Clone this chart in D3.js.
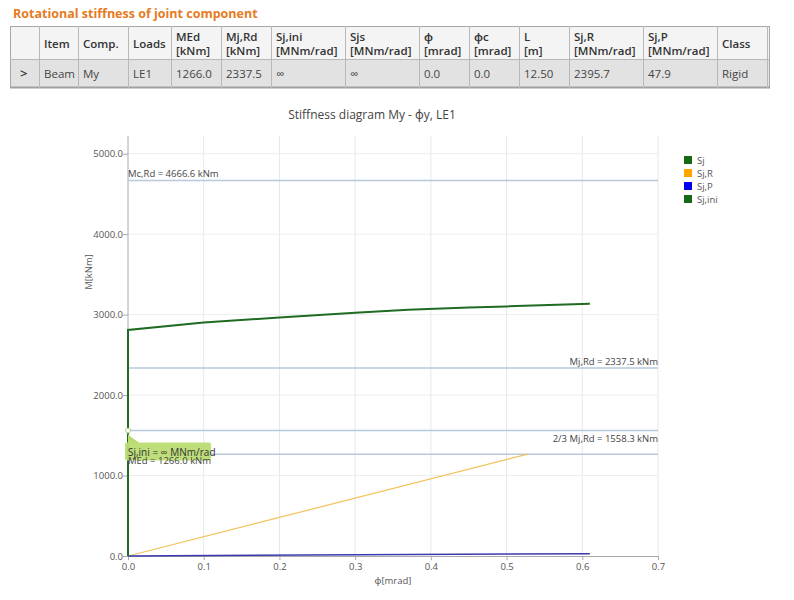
<!DOCTYPE html>
<html><head><meta charset="utf-8">
<script src="https://cdn.jsdelivr.net/npm/d3@7"></script>
<style>body{margin:0;background:#fff}svg{display:block}</style>
</head><body>
<svg id="c" width="794" height="600"></svg>
<script>
// ---------- data ----------
const tableTitle = "Rotational stiffness of joint component";
const headerLine1 = ["", "Item", "Comp.", "Loads", "MEd", "Mj,Rd", "Sj,ini", "Sjs", "ϕ", "ϕc", "L", "Sj,R", "Sj,P", "Class"];
const headerLine2 = ["", "", "", "", "[kNm]", "[kNm]", "[MNm/rad]", "[MNm/rad]", "[mrad]", "[mrad]", "[m]", "[MNm/rad]", "[MNm/rad]", ""];
const rowValues = [">", "Beam", "My", "LE1", "1266.0", "2337.5", "∞", "∞", "0.0", "0.0", "12.50", "2395.7", "47.9", "Rigid"];

const chartTitle = "Stiffness diagram My - ϕy, LE1";
const xTicks = [0, 0.1, 0.2, 0.3, 0.4, 0.5, 0.6, 0.7];
const yTicks = [0, 1000, 2000, 3000, 4000, 5000];
const sjCurve = [[0,0],[0,2810],[0.1,2902],[0.2,2964],[0.3,3022],[0.37,3062],[0.45,3088],[0.5,3102],[0.61,3134]];
const sjRLine = [[0,0],[0.528,1266.0]];
const sjPLine = [[0,0],[0.61,29.2]];
const sjIniLine = [[0,0],[0,1558.3]];
const refNames = ["Mc,Rd = 4666.6 kNm", "Mj,Rd = 2337.5 kNm", "2/3 Mj,Rd = 1558.3 kNm", "MEd = 1266.0 kNm"];
const refValues = [4666.6, 2337.5, 1558.3, 1266.0];
const legendNames = ["Sj", "Sj,R", "Sj,P", "Sj,ini"];
const tooltipText = "Sj,ini = ∞ MNm/rad";

// ---------- layout ----------
const svg = d3.select("#c");
const F = "'Open Sans', 'Noto Sans', sans-serif";

// Table
svg.append("text").attr("x", 13).attr("y", 18).attr("font-family", F).attr("font-weight", 700)
  .attr("font-size", 12.5).attr("fill", "#e57b22").text(tableTitle);

const colEdges = [10, 39, 78, 128, 171, 221, 271, 345, 419, 469, 519, 569, 643, 717, 767];
const tY0 = 26, tY1 = 59, tY2 = 88;
const tbl = svg.append("g");
tbl.append("rect").attr("x", 10).attr("y", tY0).attr("width", 760).attr("height", tY1 - tY0).attr("fill", "#f4f4f4");
tbl.append("rect").attr("x", 10).attr("y", tY1).attr("width", 760).attr("height", tY2 - tY1).attr("fill", "#e2e2e2");
tbl.append("rect").attr("x", 10.5).attr("y", tY0 + 0.5).attr("width", 759).attr("height", tY2 - tY0 - 1)
  .attr("fill", "none").attr("stroke", "#a8a8a8");
tbl.append("line").attr("x1", 10).attr("x2", 770).attr("y1", tY1 + 0.5).attr("y2", tY1 + 0.5).attr("stroke", "#b8b8b8");
tbl.append("line").attr("x1", 10).attr("x2", 770).attr("y1", tY2 - 0.5).attr("y2", tY2 - 0.5).attr("stroke", "#a0a0a0").attr("stroke-width", 2);
colEdges.slice(1).forEach(x => tbl.append("line").attr("x1", x + 0.5).attr("x2", x + 0.5).attr("y1", tY0).attr("y2", tY2).attr("stroke", "#b8b8b8"));

headerLine1.forEach((h, i) => {
  const x = colEdges[i] + 5;
  if (!h) return;
  const two = headerLine2[i] !== "";
  const t = tbl.append("text").attr("x", x).attr("font-family", F).attr("font-size", 11.5).attr("font-weight", 600).attr("fill", "#333");
  if (two) {
    t.attr("y", 41).text(h);
    tbl.append("text").attr("x", x).attr("y", 55).attr("font-family", F).attr("font-size", 11.5).attr("font-weight", 600).attr("fill", "#333").text(headerLine2[i]);
  } else t.attr("y", 48).text(h);
});
rowValues.forEach((v, i) => {
  const x = i === 0 ? 20 : colEdges[i] + 5;
  tbl.append("text").attr("x", x).attr("y", 78).attr("font-family", F).attr("font-size", i === 0 ? 13 : 11.5)
    .attr("font-weight", i === 0 ? 600 : 400).attr("fill", i === 0 ? "#333" : "#444").text(v);
});

// Chart
const pl = 128, pr = 658, pt = 136, pb = 556;
const x = d3.scaleLinear().domain([0, 0.7]).range([pl, pr]);
const y = d3.scaleLinear().domain([0, 5220]).range([pb, pt]);
const g = svg.append("g");

g.append("text").attr("x", 372).attr("y", 119).attr("text-anchor", "middle").attr("font-family", F)
  .attr("font-size", 12).attr("fill", "#444").text(chartTitle);

// grid
g.append("g").selectAll("line").data(xTicks.slice(1)).join("line")
  .attr("x1", d => x(d)).attr("x2", d => x(d)).attr("y1", pt).attr("y2", pb).attr("stroke", "#e6e8ec").attr("stroke-width", 1);
g.append("g").selectAll("line").data(yTicks.slice(1)).join("line")
  .attr("x1", pl).attr("x2", pr).attr("y1", d => y(d)).attr("y2", d => y(d)).attr("stroke", "#ececec").attr("stroke-width", 1);

// axes
const xa = g.append("g").attr("transform", `translate(0,${pb})`)
  .call(d3.axisBottom(x).tickValues(xTicks).tickFormat(d3.format(".1f")).tickSize(4).tickSizeOuter(0));
const ya = g.append("g").attr("transform", `translate(${pl},0)`)
  .call(d3.axisLeft(y).tickValues(yTicks).tickFormat(d3.format(".1f")).tickSize(5).tickSizeOuter(0));
[xa, ya].forEach(a => {
  a.select(".domain").attr("stroke", "#aaa");
  a.selectAll(".tick line").attr("stroke", "#aaa");
  a.selectAll(".tick text").attr("font-family", F).attr("font-size", 9.5).attr("fill", "#555");
});
ya.select(".domain").attr("d", `M0,${pt}V${pb}`);
ya.selectAll(".tick text").attr("x", -5);

g.append("text").attr("x", 393).attr("y", 584).attr("text-anchor", "middle").attr("font-family", F)
  .attr("font-size", 9.5).attr("fill", "#555").text("ϕ[mrad]");
g.append("text").attr("transform", `translate(92,${(pt + pb) / 2 - 74}) rotate(-90)`).attr("text-anchor", "middle")
  .attr("font-family", F).attr("font-size", 9.5).attr("fill", "#555").text("M[kNm]");

// reference lines
const refLabelAnchor = ["start", "end", "end", "start"];
const refLabelDy = [-4, -3, 11, 10];
refValues.forEach((v, i) => {
  g.append("line").attr("x1", pl).attr("x2", pr).attr("y1", y(v)).attr("y2", y(v)).attr("stroke", "#b7c9da").attr("stroke-width", 1.5);
});

const line = d3.line().x(d => x(d[0])).y(d => y(d[1]));
g.append("path").datum(sjRLine).attr("d", line).attr("fill", "none").attr("stroke", "#f2c25c").attr("stroke-width", 1.2);
g.append("path").datum(sjPLine).attr("d", line).attr("fill", "none").attr("stroke", "#3a3ab0").attr("stroke-width", 1.5);
g.append("path").datum(sjIniLine).attr("d", line).attr("fill", "none").attr("stroke", "#5f9a5f").attr("stroke-width", 2);
g.append("path").datum(sjCurve).attr("d", line).attr("fill", "none").attr("stroke", "#1f6b22").attr("stroke-width", 2);

refValues.forEach((v, i) => {
  if (i === 3) return;
  g.append("text").attr("x", refLabelAnchor[i] === "start" ? pl : pr).attr("y", y(v) + refLabelDy[i])
    .attr("text-anchor", refLabelAnchor[i]).attr("font-family", F).attr("font-size", 9.5).attr("fill", "#444").text(refNames[i]);
});

// tooltip
const mx = x(sjIniLine[1][0]), my = y(sjIniLine[1][1]);
g.append("path").attr("d", `M${mx},${my + 4}L${mx + 12},${my + 13}L${mx},${my + 13}Z`).attr("fill", "#b9dc72");
g.append("rect").attr("x", mx - 3).attr("y", my + 12).attr("width", 86).attr("height", 18).attr("rx", 2).attr("fill", "#b9dc72").attr("opacity", 0.95);
g.append("text").attr("x", mx).attr("y", my + 25).attr("font-family", F).attr("font-size", 10).attr("fill", "#333").text(tooltipText);
g.append("circle").attr("cx", mx).attr("cy", my).attr("r", 2.5).attr("fill", "#fff").attr("stroke", "#a8cf70").attr("stroke-width", 1);
// MEd label drawn on top of tooltip box (as in reference)
g.append("text").attr("x", pl).attr("y", y(refValues[3]) + refLabelDy[3]).attr("font-family", F)
  .attr("font-size", 9.5).attr("fill", "#444").text(refNames[3]);

// legend
const legendColors = ["#146b14", "#ffa500", "#0000ee", "#146b14"];
const lg = g.append("g").attr("transform", "translate(684,156)");
legendNames.forEach((n, i) => {
  lg.append("rect").attr("x", 0).attr("y", i * 13).attr("width", 8).attr("height", 8).attr("fill", legendColors[i]);
  lg.append("text").attr("x", 13).attr("y", i * 13 + 8).attr("font-family", F).attr("font-size", 9.5).attr("fill", "#555").text(n);
});
</script>
</body></html>
